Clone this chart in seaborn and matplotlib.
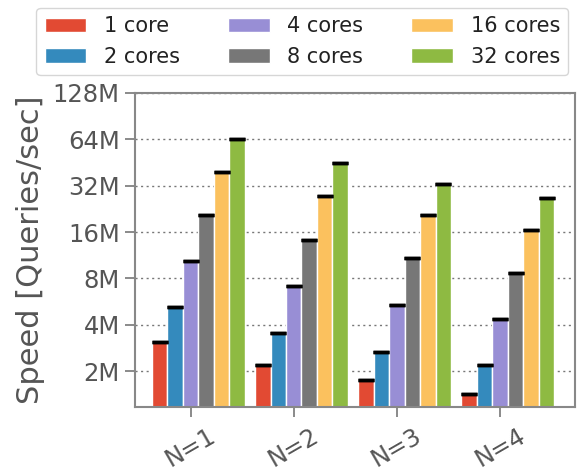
import numpy as np
import pandas as pd
import matplotlib
matplotlib.use("Agg")
import matplotlib.pyplot as plt
import seaborn as sns
from matplotlib.ticker import FixedLocator, NullLocator
from matplotlib.container import BarContainer

categories = ["N=1", "N=2", "N=3", "N=4"]
core_labels = ["1 core", "2 cores", "4 cores", "8 cores", "16 cores", "32 cores"]
# speeds in millions of queries/sec, one list per core count (N=1..4)
speed_1 = [3.10, 2.18, 1.74, 1.41]
speed_2 = [5.2, 3.55, 2.67, 2.18]
speed_4 = [10.3, 7.1, 5.33, 4.35]
speed_8 = [20.7, 14.3, 10.9, 8.7]
speed_16 = [39.2, 27.5, 20.6, 16.4]
speed_32 = [64.0, 44.8, 32.9, 26.8]
series = [speed_1, speed_2, speed_4, speed_8, speed_16, speed_32]
ytick_values = [2, 4, 8, 16, 32, 64, 128]
ytick_labels = ["2M", "4M", "8M", "16M", "32M", "64M", "128M"]
colors = ["#E24A33", "#348ABD", "#988ED5", "#777777", "#FBC15E", "#8EBA42"]

rows = []
for lab, vals in zip(core_labels, series):
    for cat, v in zip(categories, vals):
        rows.append({"N": cat, "cores": lab, "speed": v})
df = pd.DataFrame(rows)

sns.set_style("white")
plt.rcParams["font.family"] = ["DejaVu Sans"]

fig = plt.figure(figsize=(5.77, 4.72), dpi=100)
ax = fig.add_axes([0.234, 0.138, 0.7625, 0.665])

sns.barplot(data=df, x="N", y="speed", hue="cores", order=categories,
            hue_order=core_labels, palette=colors, width=0.9,
            edgecolor="white", linewidth=1.0, saturation=1, ax=ax,
            legend=True, errorbar=None, zorder=2)

ax.set_yscale("log", base=2)
ax.set_ylim(1.17, 128)
ax.yaxis.set_major_locator(FixedLocator(ytick_values))
ax.yaxis.set_minor_locator(NullLocator())
ax.set_yticklabels(ytick_labels)

bar_conts = [c for c in ax.containers if isinstance(c, BarContainer)]
# caps on top of bars
for cont in bar_conts:
    xs = [b.get_x() + b.get_width() / 2 for b in cont]
    ys = [b.get_height() for b in cont]
    ax.errorbar(xs, ys, yerr=[[0] * len(ys), [0] * len(ys)], fmt="none",
                ecolor="black", capsize=6, capthick=2.5, elinewidth=0,
                zorder=3)

ticks = [b.get_x() + b.get_width() / 2 for b in bar_conts[2]]
ax.set_xticks(ticks)
ax.set_xticklabels(categories, rotation=30, fontsize=17.5, color="#555555")
ax.set_xlim(-0.613, 3.65)
ax.set_xlabel("")

ax.set_ylabel("Speed [Queries/sec]", fontsize=22, color="#555555")
ax.yaxis.set_label_coords(-0.205, 0.5)
ax.tick_params(axis="y", labelsize=17.5, labelcolor="#555555", color="#777777",
               length=7, width=1.2, left=True, pad=4)
ax.tick_params(axis="x", color="#777777", length=7, width=1.2, bottom=True, pad=5)

ax.yaxis.grid(True, linestyle=(0, (1.5, 2.5)), color="#777777", linewidth=1.0, zorder=0)
ax.xaxis.grid(False)
ax.set_axisbelow(True)
for sp in ax.spines.values():
    sp.set_color("#888888")
    sp.set_linewidth(1.5)

handles, labels = ax.get_legend_handles_labels()
ax.get_legend().remove()
leg = fig.legend(handles, labels, ncol=3, loc="upper center",
                 bbox_to_anchor=(0.524, 0.983), fontsize=15, frameon=True,
                 edgecolor="#cccccc", fancybox=True, columnspacing=2.3,
                 handlelength=2.0, handletextpad=0.85, borderpad=0.4,
                 labelspacing=0.5, borderaxespad=0)
for t in leg.get_texts():
    t.set_color("#222222")

fig.savefig("out.png", dpi=100)
